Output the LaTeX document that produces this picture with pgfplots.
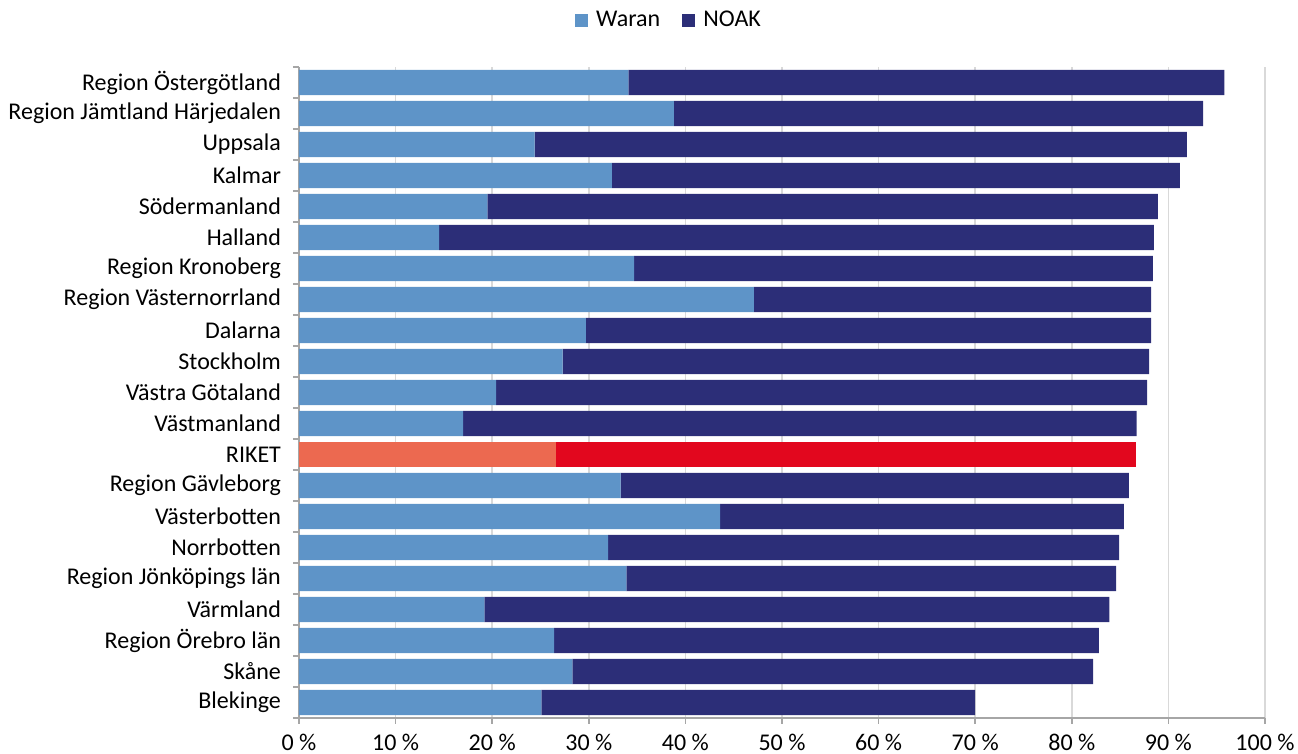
\documentclass[border=0pt]{standalone}
\usepackage{pgfplots}
\pgfplotsset{compat=1.18}
\usepackage{fontspec}
\setmainfont{Carlito}
\definecolor{waran}{HTML}{5E94C8}
\definecolor{noak}{HTML}{2C2E78}
\definecolor{rikw}{HTML}{EC6950}
\definecolor{rikn}{HTML}{E2071E}
\definecolor{gridc}{HTML}{D9D9D9}
\definecolor{axc}{HTML}{A6A6A6}
\begin{document}
\begin{tikzpicture}
\useasboundingbox (0,0) rectangle (649pt,377pt);
\begin{axis}[
  at={(149.5pt,18pt)}, anchor=south west,
  scale only axis, width=483pt, height=325.5pt,
  xbar stacked, bar width=12.6pt,
  xmin=0, xmax=100, ymin=-0.5, ymax=20.5,
  axis lines*=left,
  axis line style={axc, line width=0.8pt},
  xtick={0,10,...,100},
  xticklabels={0 \%,10 \%,20 \%,30 \%,40 \%,50 \%,60 \%,70 \%,80 \%,90 \%,100 \%},
  xmajorgrids, major grid style={gridc, line width=0.8pt},
  ytick={0,...,20},
  yticklabels={Blekinge,Skåne,Region Örebro län,Värmland,Region Jönköpings län,Norrbotten,Västerbotten,Region Gävleborg,RIKET,Västmanland,Västra Götaland,Stockholm,Dalarna,Region Västernorrland,Region Kronoberg,Halland,Södermanland,Kalmar,Uppsala,Region Jämtland Härjedalen,Region Östergötland},
  minor ytick={-0.5,0.5,...,20.5},
  tick align=outside,
  major tick length=3pt, minor tick length=3pt,
  major y tick style={draw=none},
  minor y tick style={axc, line width=0.8pt},
  major x tick style={axc, line width=0.8pt},
  tick label style={font=\fontsize{12}{14}\selectfont},
  yticklabel style={xshift=-2.5pt},
  xticklabel style={yshift=-1.5pt},
  legend style={at={(0.384,1.072)}, anchor=center, draw=none, fill=none,
    font=\fontsize{12}{14}\selectfont, legend columns=2,
    /tikz/every odd column/.append style={column sep=2pt},
    /tikz/every even column/.append style={column sep=9pt}},
  legend image code/.code={\fill[#1] (0pt,-3.3pt) rectangle (6.6pt,3.3pt);},
]
\addplot[fill=waran, draw=none] coordinates {
(25.1,0) (28.3,1) (26.4,2) (19.2,3) (33.9,4) (32.0,5) (43.6,6) (33.3,7) (0,8) (17.0,9) (20.4,10) (27.3,11) (29.7,12) (47.1,13) (34.7,14) (14.5,15) (19.5,16) (32.4,17) (24.4,18) (38.8,19) (34.1,20)};
\addplot[fill=noak, draw=none] coordinates {
(44.9,0) (53.9,1) (56.4,2) (64.7,3) (50.7,4) (52.9,5) (41.8,6) (52.6,7) (0,8) (69.7,9) (67.4,10) (60.7,11) (58.5,12) (41.1,13) (53.7,14) (74.0,15) (69.4,16) (58.8,17) (67.5,18) (54.8,19) (61.7,20)};
\addplot[fill=rikw, draw=none, forget plot] coordinates {
(0,0) (0,1) (0,2) (0,3) (0,4) (0,5) (0,6) (0,7) (26.6,8) (0,9) (0,10) (0,11) (0,12) (0,13) (0,14) (0,15) (0,16) (0,17) (0,18) (0,19) (0,20)};
\addplot[fill=rikn, draw=none, forget plot] coordinates {
(0,0) (0,1) (0,2) (0,3) (0,4) (0,5) (0,6) (0,7) (60.0,8) (0,9) (0,10) (0,11) (0,12) (0,13) (0,14) (0,15) (0,16) (0,17) (0,18) (0,19) (0,20)};
\legend{Waran,NOAK}
\end{axis}
\end{tikzpicture}
\end{document}
